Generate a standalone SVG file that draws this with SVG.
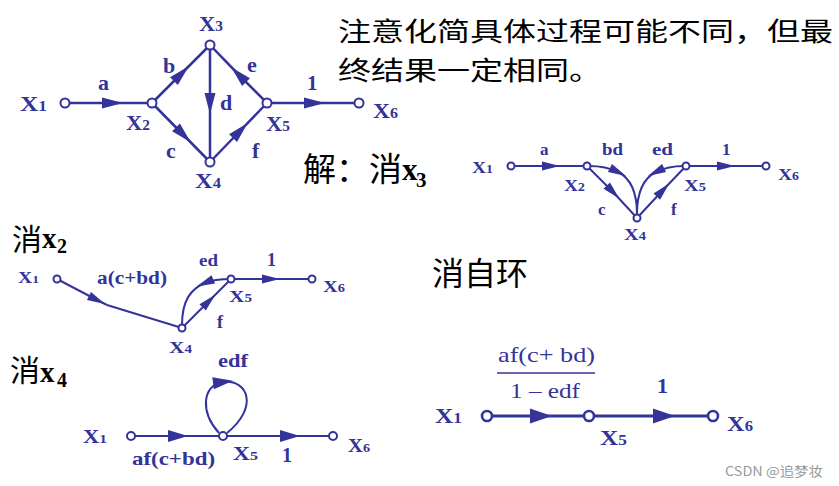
<svg xmlns="http://www.w3.org/2000/svg" width="839" height="486" viewBox="0 0 839 486">
<style>
.e{fill:none;stroke:#333399;stroke-width:2.5}
.e2{fill:none;stroke:#333399;stroke-width:2}
.e3{fill:none;stroke:#333399;stroke-width:3}
.n{fill:#fff;stroke:#333399;stroke-width:2}
.n3{fill:#fff;stroke:#333399;stroke-width:2.6}
.l{font-family:"Liberation Serif","Times New Roman",serif;font-weight:bold;fill:#333399}
.m{font-family:"Liberation Serif","Times New Roman",serif;fill:#333399}
.cn{font-family:"Noto Sans CJK SC","Noto Sans CJK JP",sans-serif;fill:#000}
.lx{font-family:"Liberation Serif","Times New Roman",serif;font-weight:bold;fill:#000}
</style>
<defs>
<marker id="aL" markerUnits="userSpaceOnUse" markerWidth="30" markerHeight="20" viewBox="-15 -10 30 20" refX="0" refY="0" orient="auto" overflow="visible"><path d="M-10,-5.5 L11,0 L-10,5.5 Z" fill="#333399"/></marker>
<marker id="aS" markerUnits="userSpaceOnUse" markerWidth="30" markerHeight="20" viewBox="-15 -10 30 20" refX="0" refY="0" orient="auto" overflow="visible"><path d="M-9,-4.5 L9,0 L-9,4.5 Z" fill="#333399"/></marker>
<marker id="aM" markerUnits="userSpaceOnUse" markerWidth="30" markerHeight="20" viewBox="-15 -10 30 20" refX="0" refY="0" orient="auto" overflow="visible"><path d="M-10,-6 L10,0 L-10,6 Z" fill="#333399"/></marker>
<marker id="aX" markerUnits="userSpaceOnUse" markerWidth="30" markerHeight="20" viewBox="-15 -10 30 20" refX="0" refY="0" orient="auto" overflow="visible"><path d="M-11,-7.5 L11,0 L-11,7.5 Z" fill="#333399"/></marker>
</defs>

<!-- header texts -->
<g id="note">
<text class="cn" x="338" y="41" font-size="26" textLength="495" lengthAdjust="spacingAndGlyphs">注意化简具体过程可能不同，但最</text>
<text class="cn" x="338" y="80" font-size="26" textLength="264" lengthAdjust="spacingAndGlyphs">终结果一定相同。</text>
</g>
<g id="title-x3">
<text class="cn" x="303" y="181" font-size="33">解：消</text>
<text class="lx" x="402" y="180" font-size="31">x</text>
<text class="lx" x="416" y="187" font-size="21">3</text>
</g>
<g id="title-x2">
<text class="cn" x="12" y="250" font-size="30">消</text>
<text class="lx" x="42" y="248" font-size="29">x</text>
<text class="lx" x="57" y="253" font-size="20">2</text>
</g>
<g id="title-x4">
<text class="cn" x="10" y="381" font-size="30">消</text>
<text class="lx" x="40" y="382" font-size="29">x</text>
<text class="lx" x="57" y="387" font-size="20">4</text>
</g>
<g id="title-loop">
<text class="cn" x="432" y="285" font-size="32">消自环</text>
</g>

<!-- connectors -->
<g id="connectors">
<!-- top graph -->
<path class="e" d="M65,103 L112,103 L152,103" marker-mid="url(#aL)"/>
<path class="e" d="M152,103 L181,74 L210,45" marker-mid="url(#aL)"/>
<path class="e" d="M152,103 L183,134.5 L210,162" marker-mid="url(#aL)"/>
<path class="e" d="M210,45 L210,103 L210,162" marker-mid="url(#aL)"/>
<path class="e" d="M267,103 L239,75 L210,45" marker-mid="url(#aL)"/>
<path class="e" d="M210,162 L240,131 L267,103" marker-mid="url(#aL)"/>
<path class="e" d="M267,103 L314,103 L359,103" marker-mid="url(#aL)"/>
<!-- eliminate x3 graph -->
<path class="e2" d="M511,166 L551,166 L587,166" marker-mid="url(#aS)"/>
<path class="e2" d="M587,166 L613,192 L637,218" marker-mid="url(#aS)"/>
<path class="e2" d="M637,218 L663,190 L686,166" marker-mid="url(#aS)"/>
<path class="e2" d="M589,166 C600,166 610,168 618,172 C630,178 637,192 637,214" marker-mid="url(#aS)"/>
<path class="e2" d="M684,166 C674,166 664,168 656,172 C644,178 637,192 637,214" marker-mid="url(#aS)"/>
<path class="e2" d="M686,166 L726,166 L766,166" marker-mid="url(#aS)"/>
<!-- eliminate x2 graph -->
<path class="e2" d="M57,279 L97,300 L107,305" marker-mid="url(#aS)"/>
<path class="e2" d="M107,305 L182,328"/>
<path class="e2" d="M182,328 L209,301 L231,279" marker-mid="url(#aS)"/>
<path class="e2" d="M231,279 C222,279 212,280 205,283 C191,289 182,300 182,325" marker-mid="url(#aS)"/>
<path class="e2" d="M231,279 L271,279 L312,279" marker-mid="url(#aS)"/>
<!-- eliminate x4 graph -->
<path class="e2" d="M131,436 L178,436 L223,436" marker-mid="url(#aM)"/>
<path class="e2" d="M223,436 L290,436 L333,436" marker-mid="url(#aM)"/>
<path class="e2" d="M219,433 C200,412 202,385 223,382 C248,379 259,407 227,433" marker-mid="url(#aM)"/>
<!-- self-loop eliminated -->
<path class="e3" d="M487,416 L541,416 L589,416" marker-mid="url(#aX)"/>
<path class="e3" d="M589,416 L664,416 L713,416" marker-mid="url(#aX)"/>
<line x1="497" y1="373" x2="595" y2="373" stroke="#333399" stroke-width="1.5"/>
</g>

<!-- top graph nodes -->
<g id="t-x1"><circle class="n" cx="65" cy="103" r="4.5"/><text class="l" x="20" y="111" font-size="22" textLength="27" lengthAdjust="spacingAndGlyphs">X<tspan font-size="15">1</tspan></text></g>
<g id="t-x2"><circle class="n" cx="152" cy="103" r="4.5"/><text class="l" x="126" y="130" font-size="22" textLength="24" lengthAdjust="spacingAndGlyphs">X<tspan font-size="15">2</tspan></text></g>
<g id="t-x3"><circle class="n" cx="210" cy="45" r="4.5"/><text class="l" x="199" y="31" font-size="22" textLength="24" lengthAdjust="spacingAndGlyphs">X<tspan font-size="15">3</tspan></text></g>
<g id="t-x4"><circle class="n" cx="210" cy="162" r="4.5"/><text class="l" x="195" y="188" font-size="22" textLength="26" lengthAdjust="spacingAndGlyphs">X<tspan font-size="15">4</tspan></text></g>
<g id="t-x5"><circle class="n" cx="267" cy="103" r="4.5"/><text class="l" x="266" y="131" font-size="22" textLength="24" lengthAdjust="spacingAndGlyphs">X<tspan font-size="15">5</tspan></text></g>
<g id="t-x6"><circle class="n" cx="359" cy="103" r="4.5"/><text class="l" x="373" y="118" font-size="22" textLength="25" lengthAdjust="spacingAndGlyphs">X<tspan font-size="15">6</tspan></text></g>
<g id="t-labels">
<text class="l" x="98" y="90" font-size="22">a</text>
<text class="l" x="163" y="73" font-size="22">b</text>
<text class="l" x="166" y="158" font-size="22">c</text>
<text class="l" x="220" y="110" font-size="22">d</text>
<text class="l" x="247" y="72" font-size="22">e</text>
<text class="l" x="252" y="158" font-size="22">f</text>
<text class="l" x="307" y="90" font-size="21">1</text>
</g>

<!-- eliminate x3 nodes -->
<g id="m-x1"><circle class="n" cx="511" cy="166" r="3.5"/><text class="l" x="472" y="173" font-size="17" textLength="21" lengthAdjust="spacingAndGlyphs">X<tspan font-size="12">1</tspan></text></g>
<g id="m-x2"><circle class="n" cx="587" cy="166" r="3.5"/><text class="l" x="564" y="191" font-size="17" textLength="21" lengthAdjust="spacingAndGlyphs">X<tspan font-size="12">2</tspan></text></g>
<g id="m-x4"><circle class="n" cx="637" cy="218" r="3.5"/><text class="l" x="624" y="240" font-size="17" textLength="22" lengthAdjust="spacingAndGlyphs">X<tspan font-size="12">4</tspan></text></g>
<g id="m-x5"><circle class="n" cx="686" cy="166" r="3.5"/><text class="l" x="684" y="191" font-size="17" textLength="22" lengthAdjust="spacingAndGlyphs">X<tspan font-size="12">5</tspan></text></g>
<g id="m-x6"><circle class="n" cx="766" cy="166" r="3.5"/><text class="l" x="778" y="180" font-size="17" textLength="21" lengthAdjust="spacingAndGlyphs">X<tspan font-size="12">6</tspan></text></g>
<g id="m-labels">
<text class="l" x="540" y="155" font-size="17">a</text>
<text class="l" x="602" y="155" font-size="17" textLength="21" lengthAdjust="spacingAndGlyphs">bd</text>
<text class="l" x="652" y="155" font-size="17" textLength="21" lengthAdjust="spacingAndGlyphs">ed</text>
<text class="l" x="722" y="155" font-size="17">1</text>
<text class="l" x="598" y="215" font-size="17">c</text>
<text class="l" x="671" y="215" font-size="17">f</text>
</g>

<!-- eliminate x2 nodes -->
<g id="b-x1"><circle class="n" cx="57" cy="279" r="3.5"/><text class="l" x="18" y="283" font-size="16" textLength="21" lengthAdjust="spacingAndGlyphs">X<tspan font-size="11">1</tspan></text></g>
<g id="b-x4"><circle class="n" cx="182" cy="328" r="3.5"/><text class="l" x="169" y="353" font-size="17" textLength="23" lengthAdjust="spacingAndGlyphs">X<tspan font-size="12">4</tspan></text></g>
<g id="b-x5"><circle class="n" cx="231" cy="279" r="3.5"/><text class="l" x="229" y="302" font-size="17" textLength="23" lengthAdjust="spacingAndGlyphs">X<tspan font-size="12">5</tspan></text></g>
<g id="b-x6"><circle class="n" cx="312" cy="279" r="3.5"/><text class="l" x="323" y="292" font-size="17" textLength="22" lengthAdjust="spacingAndGlyphs">X<tspan font-size="12">6</tspan></text></g>
<g id="b-labels">
<text class="l" x="97" y="284" font-size="18" textLength="70" lengthAdjust="spacingAndGlyphs">a(c+bd)</text>
<text class="l" x="199" y="266" font-size="17" textLength="19" lengthAdjust="spacingAndGlyphs">ed</text>
<text class="l" x="267" y="266" font-size="18">1</text>
<text class="l" x="217" y="328" font-size="18">f</text>
</g>

<!-- eliminate x4 nodes -->
<g id="c-x1"><circle class="n" cx="131" cy="436" r="4"/><text class="l" x="83" y="443" font-size="19" textLength="24" lengthAdjust="spacingAndGlyphs">X<tspan font-size="13">1</tspan></text></g>
<g id="c-x5"><circle class="n" cx="223" cy="436" r="4"/><text class="l" x="233" y="460" font-size="19" textLength="25" lengthAdjust="spacingAndGlyphs">X<tspan font-size="13">5</tspan></text></g>
<g id="c-x6"><circle class="n" cx="333" cy="436" r="4"/><text class="l" x="348" y="452" font-size="19" textLength="22" lengthAdjust="spacingAndGlyphs">X<tspan font-size="13">6</tspan></text></g>
<g id="c-labels">
<text class="l" x="132" y="465" font-size="19" textLength="83" lengthAdjust="spacingAndGlyphs">af(c+bd)</text>
<text class="l" x="218" y="367" font-size="19" textLength="30" lengthAdjust="spacingAndGlyphs">edf</text>
<text class="l" x="282" y="462" font-size="20">1</text>
</g>

<!-- final graph nodes -->
<g id="f-x1"><circle class="n3" cx="487" cy="416" r="5"/><text class="l" x="435" y="423" font-size="22" textLength="27" lengthAdjust="spacingAndGlyphs">X<tspan font-size="15">1</tspan></text></g>
<g id="f-x5"><circle class="n3" cx="589" cy="416" r="5"/><text class="l" x="600" y="445" font-size="22" textLength="27" lengthAdjust="spacingAndGlyphs">X<tspan font-size="15">5</tspan></text></g>
<g id="f-x6"><circle class="n3" cx="713" cy="416" r="5"/><text class="l" x="727" y="431" font-size="22" textLength="26" lengthAdjust="spacingAndGlyphs">X<tspan font-size="15">6</tspan></text></g>
<g id="f-labels">
<text class="m" x="498" y="362" font-size="21" textLength="97" lengthAdjust="spacingAndGlyphs">af(c+ bd)</text>
<text class="m" x="510" y="398" font-size="21" textLength="70" lengthAdjust="spacingAndGlyphs">1 – edf</text>
<text class="l" x="657" y="393" font-size="22">1</text>
</g>

<g id="watermark">
<text x="725" y="476" font-family="'Noto Sans CJK SC','Noto Sans',sans-serif" font-size="13" fill="#999" textLength="98" lengthAdjust="spacingAndGlyphs">CSDN @追梦妆</text>
</g>
</svg>
